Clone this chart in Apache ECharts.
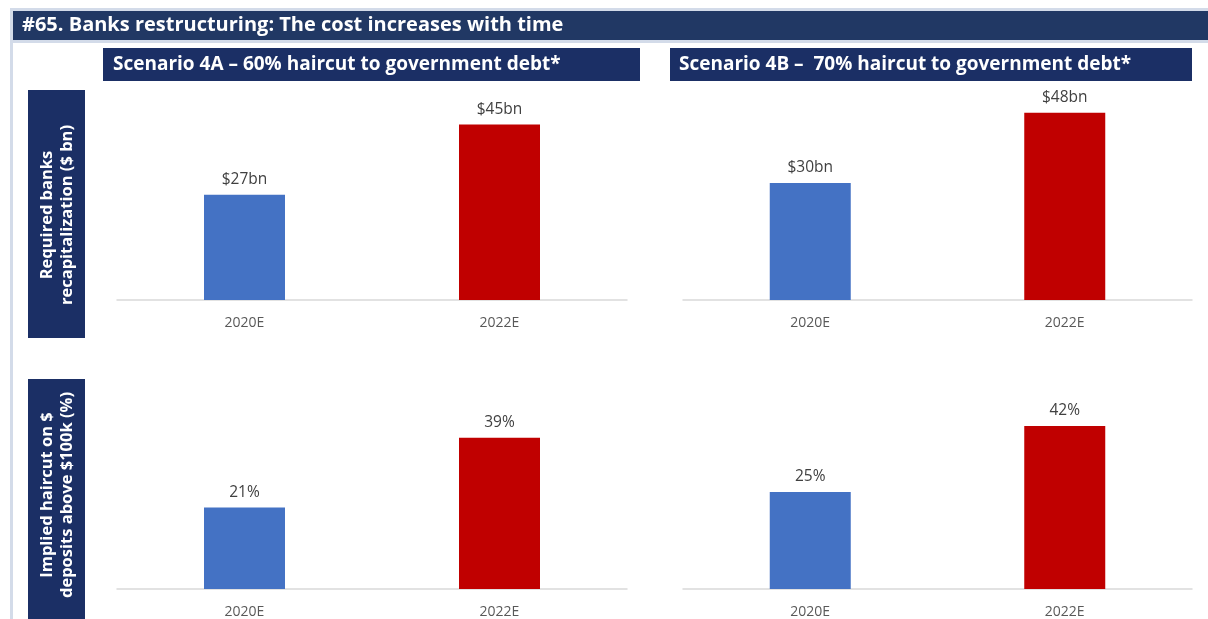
<!DOCTYPE html>
<html>
<head>
<meta charset="utf-8">
<script src="https://cdn.jsdelivr.net/npm/echarts@6/dist/echarts.min.js"></script>
<style>
	html, body { margin: 0; padding: 0; background: #fff; }
	#main { width: 1208px; height: 619px; }
</style>
</head>
<body>
<div id="main"></div>
<script>
// 数据
var categories = ['2020E', '2022E'];
var capital4A = [27, 45];   // $ bn
var capital4B = [30, 48];
var haircut4A = [21, 39];   // %
var haircut4B = [25, 42];
var barColors = ['#4472C4', '#C00000'];

var titleText = '#65. Banks restructuring: The cost increases with time';
var scenarioA = 'Scenario 4A \u2013 60% haircut to government debt*';
var scenarioB = 'Scenario 4B \u2013  70% haircut to government debt*';
var rowLabelTop = 'Required banks\nrecapitalization ($ bn)';
var rowLabelBottom = 'Implied haircut on $\ndeposits above $100k (%)';

var FONT = 'Open Sans';
var NAVY = '#1B2F65';

var myChart = echarts.init(document.getElementById('main'));

// 每个小图的位置
var grids = [
	{ left: 117, width: 510, top: 105, height: 195 },
	{ left: 683, width: 509, top: 105, height: 195 },
	{ left: 117, width: 510, top: 395, height: 195 },
	{ left: 683, width: 509, top: 395, height: 195 }
];
var seriesData = [capital4A, capital4B, haircut4A, haircut4B];
var formats = [
	function(v) { return '$' + v + 'bn'; },
	function(v) { return '$' + v + 'bn'; },
	function(v) { return v + '%'; },
	function(v) { return v + '%'; }
];

var xAxes = [], yAxes = [], series = [];
grids.forEach(function(g, i) {
	xAxes.push({
		type: 'category',
		gridIndex: i,
		data: categories,
		axisLine: { lineStyle: { color: '#D9D9D9', width: 1.5 } },
		axisTick: { show: false },
		axisLabel: { color: '#595959', fontSize: 14, fontFamily: FONT, margin: 16 }
	});
	yAxes.push({
		type: 'value',
		gridIndex: i,
		min: 0,
		max: 50,
		show: false,
		splitLine: { show: false }
	});
	var fmt = formats[i];
	series.push({
		type: 'bar',
		xAxisIndex: i,
		yAxisIndex: i,
		barWidth: 81,
		data: seriesData[i].map(function(v, k) {
			return { value: v, itemStyle: { color: barColors[k] } };
		}),
		label: {
			show: true,
			position: 'top',
			distance: 7,
			color: '#404040',
			fontSize: 15.5,
			fontFamily: FONT,
			formatter: function(p) { return fmt(p.value); }
		},
		silent: true
	});
});

option = {
	backgroundColor: '#fff',
	animation: false,
	grid: grids,
	xAxis: xAxes,
	yAxis: yAxes,
	series: series,
	graphic: [
		// 左边和顶部的浅色边线
		{ type: 'rect', shape: { x: 10, y: 8, width: 3, height: 611 }, style: { fill: '#D3DBE9' } },
		{ type: 'rect', shape: { x: 10, y: 8, width: 1198, height: 3 }, style: { fill: '#D3DBE9' } },
		{ type: 'rect', shape: { x: 13, y: 40, width: 1195, height: 3 }, style: { fill: '#D3DBE9' } },
		// 标题栏
		{ type: 'rect', shape: { x: 13, y: 11, width: 1195, height: 29 }, style: { fill: '#213864' } },
		{ type: 'text', x: 22, y: 25.5, style: { text: titleText, fill: '#fff', font: 'bold 20px "' + FONT + '"', verticalAlign: 'middle' } },
		// 场景标题
		{ type: 'rect', shape: { x: 103, y: 48, width: 537, height: 33 }, style: { fill: NAVY } },
		{ type: 'text', x: 113, y: 64.5, style: { text: scenarioA, fill: '#fff', font: 'bold 19px "' + FONT + '"', verticalAlign: 'middle' } },
		{ type: 'rect', shape: { x: 670, y: 48, width: 522, height: 33 }, style: { fill: NAVY } },
		{ type: 'text', x: 679, y: 64.5, style: { text: scenarioB, fill: '#fff', font: 'bold 19px "' + FONT + '"', verticalAlign: 'middle' } },
		// 左侧行标签
		{ type: 'rect', shape: { x: 28, y: 90, width: 57, height: 248 }, style: { fill: NAVY } },
		{ type: 'text', x: 57, y: 215, rotation: Math.PI / 2,
			style: { text: rowLabelTop, fill: '#fff', font: 'bold 16.5px "' + FONT + '"', align: 'center', verticalAlign: 'middle', lineHeight: 20 } },
		{ type: 'rect', shape: { x: 28, y: 379, width: 57, height: 240 }, style: { fill: NAVY } },
		{ type: 'text', x: 57, y: 495, rotation: Math.PI / 2,
			style: { text: rowLabelBottom, fill: '#fff', font: 'bold 16.5px "' + FONT + '"', align: 'center', verticalAlign: 'middle', lineHeight: 20 } }
	]
};

myChart.setOption(option);
</script>
</body>
</html>
